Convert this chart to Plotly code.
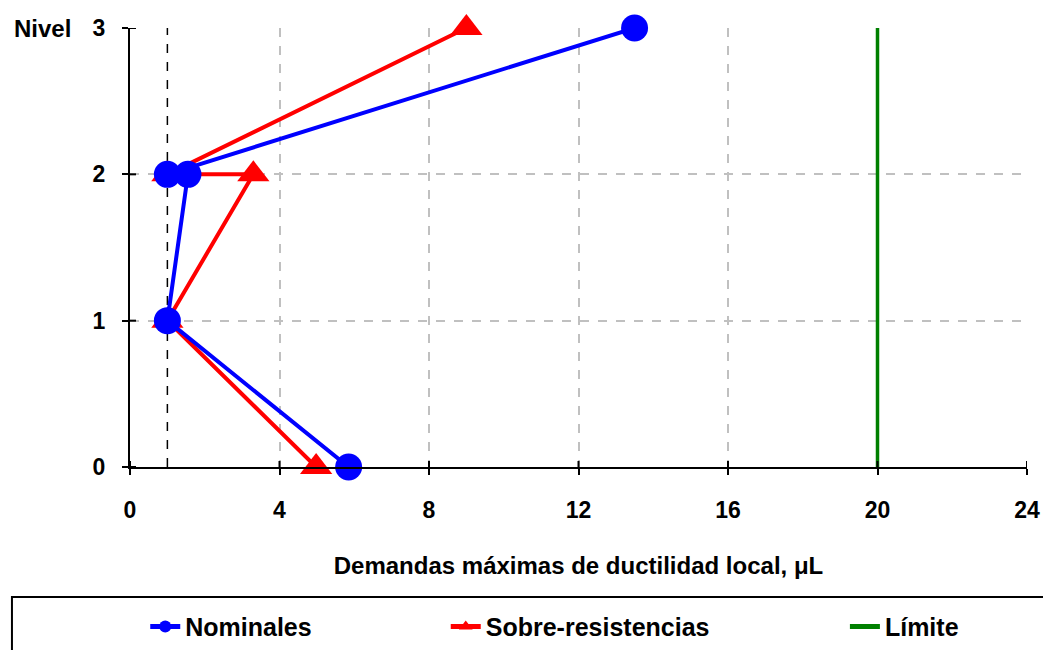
import plotly.graph_objects as go

niveles_nom = [0, 1, 2, 2, 3]
nominales = [5.85, 1.0, 1.55, 1.0, 13.5]
niveles_sob = [0, 1, 2, 2, 3]
sobre = [4.98, 1.0, 3.3, 1.0, 9.0]
limite_x = [20, 20]
limite_y = [0, 3]
ref_x = [1, 1]
ref_y = [0, 3]
x_ticks = [0, 4, 8, 12, 16, 20, 24]
y_ticks = [0, 1, 2, 3]

FONT = "Liberation Sans, Arial, sans-serif"

fig = go.Figure()
fig.add_trace(go.Scatter(x=ref_x, y=ref_y, mode="lines", showlegend=False,
                         line=dict(color="black", width=1.5, dash="dash"), hoverinfo="skip"))
fig.add_trace(go.Scatter(x=limite_x, y=limite_y, mode="lines", name="Límite",
                         line=dict(color="#008000", width=3.5), legend="legend3"))
fig.add_trace(go.Scatter(x=sobre, y=niveles_sob, mode="lines+markers", name="Sobre-resistencias",
                         line=dict(color="#ff0000", width=4), cliponaxis=False,
                         marker=dict(symbol="triangle-up", size=28, color="#ff0000"),
                         legend="legend2"))
fig.add_trace(go.Scatter(x=nominales, y=niveles_nom, mode="lines+markers", name="Nominales",
                         line=dict(color="#0000ff", width=4), cliponaxis=False,
                         marker=dict(symbol="circle", size=27, color="#0000ff"),
                         legend="legend"))

leg_common = dict(orientation="h", yanchor="middle", y=-0.364, xanchor="left",
                  bgcolor="rgba(0,0,0,0)", borderwidth=0,
                  font=dict(family=FONT, size=25, color="black", weight="bold"),
                  itemsizing="constant")

# crossing tick marks (inner half)
shapes = [dict(type="rect", xref="paper", yref="paper",
               x0=-0.1316, x1=1.03, y0=-0.296, y1=-0.45,
               line=dict(color="black", width=2), fillcolor="rgba(0,0,0,0)")]
for xv in x_ticks:
    shapes.append(dict(type="line", xref="x", yref="paper", ysizemode="pixel", yanchor=0,
                       x0=xv, x1=xv, y0=0, y1=6, line=dict(color="black", width=2)))
for yv in y_ticks:
    shapes.append(dict(type="line", xref="paper", yref="y", xsizemode="pixel", xanchor=0,
                       x0=0, x1=6, y0=yv, y1=yv, line=dict(color="black", width=2)))

fig.update_layout(
    width=1043, height=650,
    margin=dict(l=130, r=16, t=28, b=183, autoexpand=False),
    paper_bgcolor="white", plot_bgcolor="white",
    font=dict(family=FONT, size=23, color="black", weight="bold"),
    legend=dict(x=0.017, **leg_common),
    legend2=dict(x=0.352, **leg_common),
    legend3=dict(x=0.797, **leg_common),
    xaxis=dict(range=[0, 24], tickvals=x_ticks, showgrid=True,
               gridcolor="#c0c0c0", griddash="dash", gridwidth=1.5,
               showline=True, linecolor="black", linewidth=2,
               ticks="outside", ticklen=6, tickwidth=2, tickcolor="black",
               ticklabelstandoff=15, zeroline=False, automargin=False,
               tickfont=dict(family=FONT, size=23, weight="bold"),
               title=dict(text="Demandas máximas de ductilidad local, μL",
                          font=dict(family=FONT, size=24, weight="bold"), standoff=36)),
    yaxis=dict(range=[0, 3], tickvals=y_ticks, showgrid=True,
               gridcolor="#c0c0c0", griddash="dash", gridwidth=1.5,
               showline=True, linecolor="black", linewidth=2,
               ticks="outside", ticklen=6, tickwidth=2, tickcolor="black",
               ticklabelstandoff=12, zeroline=False, automargin=False,
               tickfont=dict(family=FONT, size=23, weight="bold")),
    shapes=shapes,
    annotations=[dict(text="Nivel", xref="paper", yref="y", x=-0.1316, y=3,
                      xanchor="left", yanchor="middle", showarrow=False,
                      font=dict(family=FONT, size=24, weight="bold"))],
)

fig.write_html(
    "out.html",
    config={"displayModeBar": False},
    post_script="document.body.style.margin='0';document.body.style.overflow='hidden';",
)
